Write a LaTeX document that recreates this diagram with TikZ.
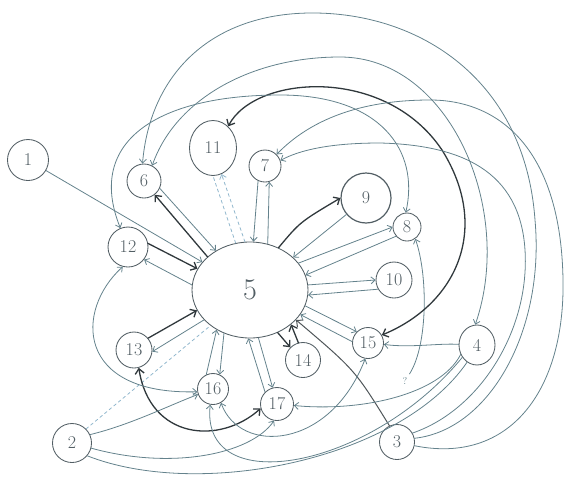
\documentclass[tikz,border=0pt]{standalone}
\usetikzlibrary{arrows.meta,shapes.geometric}
\definecolor{pencil}{RGB}{100,130,140}
\definecolor{lead}{RGB}{48,56,60}
\definecolor{faint}{RGB}{145,183,205}
\definecolor{ink}{RGB}{82,94,100}
\begin{document}
\begin{tikzpicture}[x=1pt,y=-1pt,line cap=round,
  stn/.style={circle,draw=ink,line width=0.85pt,inner sep=0pt,text=ink,font=\fontsize{18}{18}\selectfont},
  barb/.style={-{Straight Barb[length=4pt,width=7pt]}},
  twoway/.style={{Straight Barb[length=4pt,width=7pt]}-{Straight Barb[length=4pt,width=7pt]}},
  ln/.style={draw=pencil,line width=0.8pt,barb},
  hv/.style={draw=lead,line width=1.3pt,-{Straight Barb[length=5pt,width=9pt]}},
  hvtwo/.style={hv,{Straight Barb[length=5pt,width=9pt]}-{Straight Barb[length=5pt,width=9pt]}},
  dsh/.style={draw=faint,line width=0.8pt,dashed}]
\useasboundingbox (0,0) rectangle (564,479);
% nodes
\node[stn,minimum size=41pt] (n1) at (28,160) {1};
\node[stn,minimum size=39pt] (n2) at (72,443) {2};
\node[stn,minimum size=35pt] (n3) at (397,442) {3};
\node[stn,ellipse,minimum width=36pt,minimum height=40pt] (n4) at (477,345) {4};
\node[stn,ellipse,minimum width=116pt,minimum height=96pt,font=\fontsize{30}{30}\selectfont] (n5) at (250,290) {5};
\node[stn,minimum size=34pt] (n6) at (144,181) {6};
\node[stn,minimum size=32pt] (n7) at (265,166) {7};
\node[stn,minimum size=28pt] (n8) at (407,227) {8};
\node[stn,minimum size=50pt,line width=1.2pt] (n9) at (366,198) {9};
\node[stn,minimum size=36pt] (n10) at (394,280) {10};
\node[stn,ellipse,minimum width=47pt,minimum height=55pt] (n11) at (213,148) {11};
\node[stn,minimum size=40pt] (n12) at (128,247) {12};
\node[stn,minimum size=36pt] (n13) at (134,350) {13};
\node[stn,minimum size=35pt] (n14) at (303,360) {14};
\node[stn,minimum size=31pt] (n15) at (368,343) {15};
\node[stn,minimum size=31pt] (n16) at (213,389) {16};
\node[stn,minimum size=33pt] (n17) at (277,404) {17};
\node[text=pencil,font=\normalsize] (q) at (405,381) {?};
% spokes round 5
\draw[ln] (n1) -- (n5);
\draw[hv] (n5.142) -- (n6.-52);
\draw[ln] (n6.-25) -- (n5.131);
\draw[hv] (n12.10) -- (n5.158);
\draw[ln] (n5.175) -- (n12.-38);
\draw[dsh] (n5.107) -- (n11.-90);
\draw[dsh,barb] (n5.96) -- (n11.-72);
\draw[ln] (n7.-115) -- (n5.86);
\draw[ln] (n5.69) -- (n7.-75);
\draw[hv] (n5.56) .. controls (300,222) .. (n9.180);
\draw[ln] (n9.-140) -- (n5.37);
\draw[ln] (n5.29) -- (n8.180);
\draw[ln] (n8.-140) -- (n5.15);
\draw[ln] (n5.5) -- (n10.180);
\draw[ln] (n10.-150) -- (n5.-5);
\draw[ln] (n5.-16) -- (n15.135);
\draw[ln] (n15.175) -- (n5.-26);
\draw[hv,draw=lead!85,line width=1pt] (n3.115) .. controls (355,370) .. (n5.-33);
\draw[hv] (n14.105) -- (n5.-40);
\draw[hv] (n5.-57) -- (n14.135);
\draw[ln] (n5.-80) -- (n17.105);
\draw[ln] (n17.135) -- (n5.-92);
\draw[ln] (n5.-121) -- (n16.65);
\draw[ln] (n16.115) -- (n5.-130);
\draw[ln] (n5.-147) -- (n13.-5);
\draw[hv] (n13.40) -- (n5.201);
\draw[dsh] (n2.45) -- (n5.-138);
% lower curves
\draw[hvtwo] (n13.-75) .. controls (150,440) and (220,445) .. (n17.195);
\draw[ln,twoway] (n12.-105) .. controls (75,310) and (75,395) .. (n16.190);
\draw[ln] (n2.25) .. controls (130,425) and (170,405) .. (n16.200);
\draw[ln] (n2.-15) .. controls (170,470) and (250,455) .. (n17.-100);
\draw[draw=pencil,line width=0.8pt] (n2.-40) .. controls (200,500) and (400,460) .. (n4.-120);
\draw[ln] (n4.-140) .. controls (370,470) and (200,500) .. (n16.-100);
\draw[ln,twoway] (n16.-60) .. controls (240,455) and (330,450) .. (n15.-100);
\draw[ln] (n4.178) .. controls (440,343) and (410,348) .. (n15.-5);
\draw[ln] (n4.-150) .. controls (440,395) and (360,412) .. (n17.-5);
\draw[ln] (q) .. controls (428,345) and (428,275) .. (n8.-55);
% upper arcs
\draw[hvtwo] (n11.55) .. controls (255,75) and (385,65) .. (442,150) .. controls (492,230) and (455,305) .. (n15.30);
\draw[ln,twoway] (n12.112) .. controls (85,140) and (160,95) .. (280,95) .. controls (380,95) and (420,150) .. (n8.95);
\draw[ln,twoway] (n6.62) .. controls (175,100) and (250,57) .. (340,57) .. controls (450,57) and (515,210) .. (n4.95);
\draw[ln] (n3.12) .. controls (490,430) and (545,330) .. (535,220) .. controls (525,80) and (420,12) .. (310,13) .. controls (210,14) and (150,75) .. (n6.95);
\draw[ln] (n3.30) .. controls (480,410) and (530,330) .. (525,250) .. controls (520,170) and (460,145) .. (380,143) .. controls (330,143) and (300,150) .. (n7.20);
\draw[ln] (n3.-12) .. controls (510,465) and (565,390) .. (563,280) .. controls (561,150) and (500,100) .. (430,100) .. controls (360,100) and (310,120) .. (n7.45);
\end{tikzpicture}
\end{document}
